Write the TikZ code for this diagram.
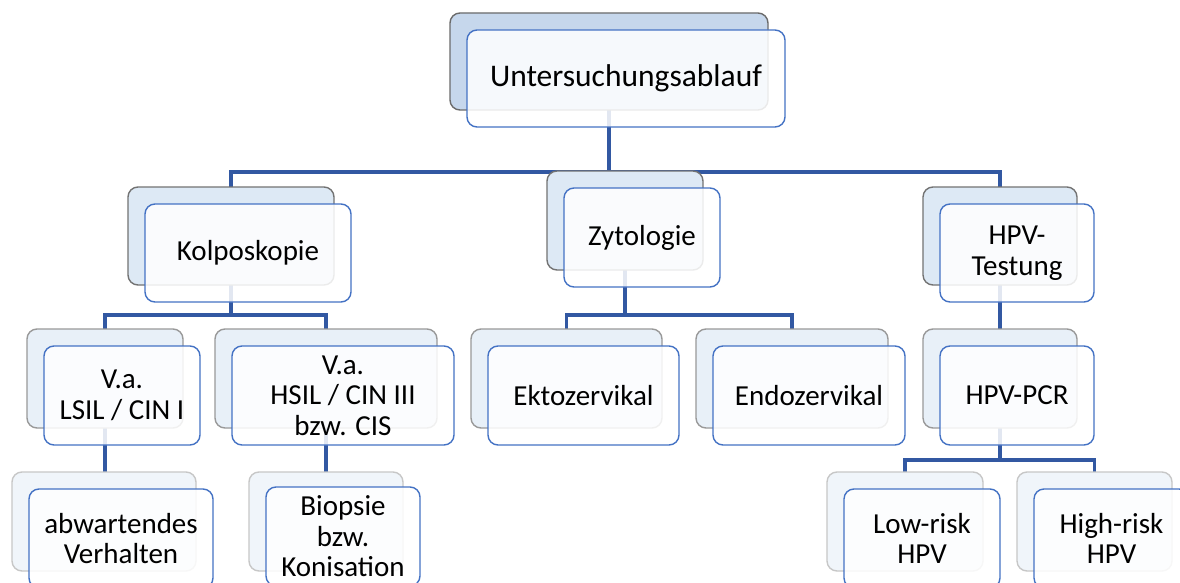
\documentclass[tikz,border=0pt]{standalone}
\usepackage{fontspec}
\setmainfont{Carlito}
\usepackage{tikz}
\usetikzlibrary{positioning}
\definecolor{frameblue}{RGB}{68,114,196}
\definecolor{linkblue}{RGB}{50,88,162}
\definecolor{fillA}{RGB}{198,215,236}
\definecolor{fillB}{RGB}{221,233,245}
\definecolor{fillC}{RGB}{232,240,248}
\definecolor{fillD}{RGB}{240,245,250}
\tikzstyle{backbox} = [draw, rectangle, rounded corners=10pt, line width=1.4pt, inner sep=0pt]
\tikzstyle{backA} = [backbox, fill=fillA, draw=black!58, minimum width=318pt, minimum height=97pt]
\tikzstyle{backB} = [backbox, fill=fillB, draw=black!55, minimum height=98pt]
\tikzstyle{backC} = [backbox, fill=fillC, draw=black!40, minimum height=99pt]
\tikzstyle{backD} = [backbox, fill=fillD, draw=black!22, minimum height=99pt]
\tikzstyle{front} = [draw=frameblue, fill=white, fill opacity=0.86, text opacity=1, rectangle, rounded corners=10pt, line width=1.4pt, inner sep=2pt, align=center, font=\fontsize{29}{30.5}\selectfont]
\tikzstyle{conn} = [draw=linkblue, line width=3.2pt]

\begin{document}
\begin{tikzpicture}[x=1pt, y=-1pt]
    \clip (0,0) rectangle (1180,583);
    \fill[white] (0,0) rectangle (1180,583);

    % Connections
    \draw [conn] (609,110) -- ++(0,62) coordinate (busA);
    \draw [conn] (231,187) |- (busA) -| (1000,187);
    \draw [conn] (231,285) -- ++(0,30) coordinate (busK);
    \draw [conn] (105,329) |- (busK) -| (326,329);
    \draw [conn] (625,270) -- ++(0,45) coordinate (busZ);
    \draw [conn] (566.5,329) |- (busZ) -| (792,329);
    \draw [conn] (1000,285) -- (1000,329);
    \draw [conn] (105,428) -- (105,472);
    \draw [conn] (326,428) -- (326,472);
    \draw [conn] (1000,428) -- ++(0,32) coordinate (busP);
    \draw [conn] (905,472) |- (busP) -| (1094.5,472);

    % Top
    \node [backA] (topB) at (609,61.5) {};
    \node [front, minimum width=318pt, minimum height=97pt, font=\fontsize{31.5}{34}\selectfont] (top) at ([shift={(17,17)}]topB) {Untersuchungsablauf};

    % Second row
    \node [backB, minimum width=206pt] (kolpoB) at (231,236) {};
    \node [front, minimum width=206pt, minimum height=98pt] (kolpo) at ([shift={(17,17)}]kolpoB) {Kolposkopie};
    \node [backB, minimum width=156pt, minimum height=99pt] (zytoB) at (625,220.5) {};
    \node [front, minimum width=156pt, minimum height=99pt] (zyto) at ([shift={(17,17)}]zytoB) {Zytologie};
    \node [backB, minimum width=154pt] (hpvB) at (1000,236) {};
    \node [front, minimum width=154pt, minimum height=98pt] (hpv) at ([shift={(17,17)}]hpvB) {HPV-\\Testung};

    % Third row
    \node [backC, minimum width=156pt] (lsilB) at (105,378.5) {};
    \node [front, minimum width=156pt, minimum height=99pt] (lsil) at ([shift={(17,17)}]lsilB) {V.a.\\LSIL / CIN I};
    \node [backC, minimum width=222pt] (hsilB) at (326,378.5) {};
    \node [front, minimum width=222pt, minimum height=99pt] (hsil) at ([shift={(17,17)}]hsilB) {V.a.\\HSIL / CIN III\\bzw. CIS};
    \node [backC, minimum width=191pt] (ektoB) at (566.5,378.5) {};
    \node [front, minimum width=191pt, minimum height=99pt] (ekto) at ([shift={(17,17)}]ektoB) {Ektozervikal};
    \node [backC, minimum width=192pt] (endoB) at (792,378.5) {};
    \node [front, minimum width=192pt, minimum height=99pt] (endo) at ([shift={(17,17)}]endoB) {Endozervikal};
    \node [backC, minimum width=154pt] (pcrB) at (1000,378.5) {};
    \node [front, minimum width=154pt, minimum height=99pt] (pcr) at ([shift={(17,17)}]pcrB) {HPV-PCR};

    % Fourth row
    \node [backD, minimum width=184pt] (abwB) at (104,521.5) {};
    \node [front, minimum width=184pt, minimum height=99pt] (abw) at ([shift={(17,17)}]abwB) {abwartendes\\Verhalten};
    \node [backD, minimum width=154pt] (bioB) at (326,521.5) {};
    \node [front, minimum width=154pt, minimum height=99pt] (bio) at ([shift={(17,15)}]bioB) {Biopsie\\bzw.\\Konisation};
    \node [backD, minimum width=156pt] (lowB) at (905,521.5) {};
    \node [front, minimum width=156pt, minimum height=99pt] (low) at ([shift={(17,17)}]lowB) {Low-risk\\HPV};
    \node [backD, minimum width=155pt] (highB) at (1094.5,521.5) {};
    \node [front, minimum width=155pt, minimum height=99pt] (high) at ([shift={(17,17)}]highB) {High-risk\\HPV};
\end{tikzpicture}
\end{document}
